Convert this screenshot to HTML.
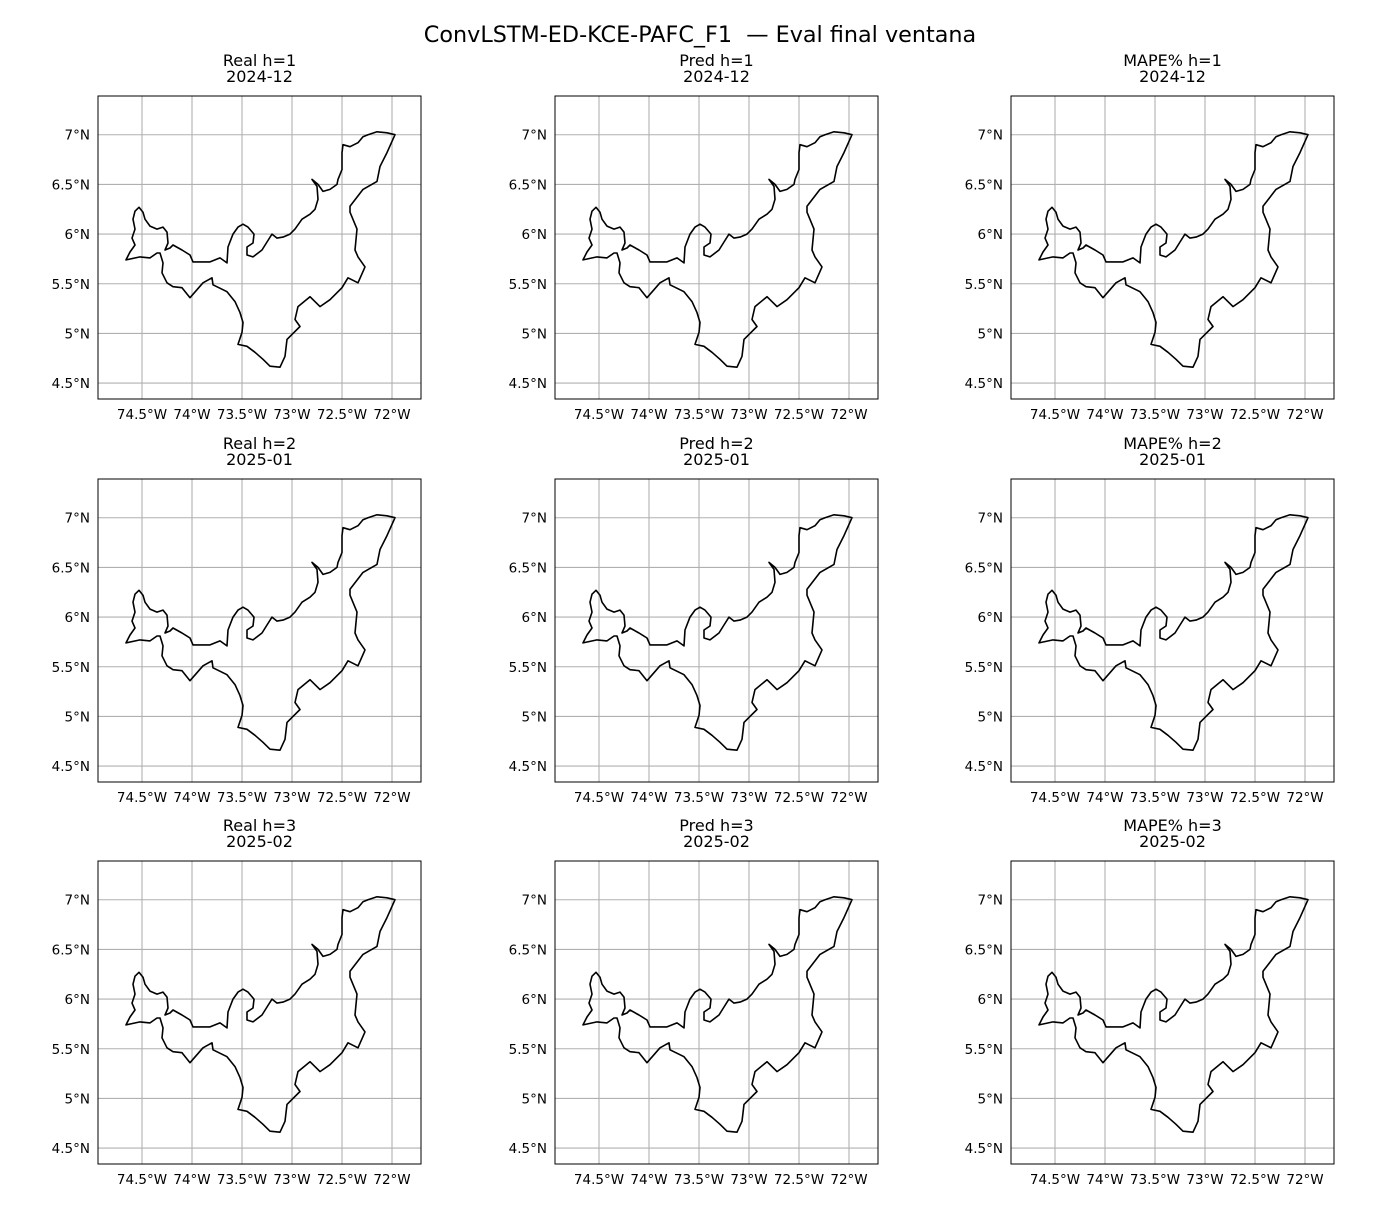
<!DOCTYPE html>
<html><head><meta charset="utf-8"><style>
html,body{margin:0;padding:0;background:#fff;}
svg text{font-family:"DejaVu Sans","Liberation Sans",sans-serif;fill:#000;}
</style></head><body>
<svg id="fig" width="1400" height="1200" viewBox="0 0 1400 1200" xmlns="http://www.w3.org/2000/svg">
<rect width="1400" height="1200" fill="#fff"/>
<text x="700" y="42" font-size="22.3" text-anchor="middle">ConvLSTM-ED-KCE-PAFC_F1&#160; — Eval final ventana</text>
</svg>
<script>
const lonTicks=[-74.5,-74,-73.5,-73,-72.5,-72];
const lonLabels=["74.5°W","74°W","73.5°W","73°W","72.5°W","72°W"];
const latTicks=[7,6.5,6,5.5,5,4.5];
const latLabels=["7°N","6.5°N","6°N","5.5°N","5°N","4.5°N"];
const colTitles=["Real","Pred","MAPE%"];
const rowH=["h=1","h=2","h=3"];
const rowDates=["2024-12","2025-01","2025-02"];
const outlineLon=[-71.97,-72.05,-72.15,-72.24,-72.29,-72.34,-72.42,-72.49,-72.50,-72.50,-72.54,-72.55,-72.62,-72.69,-72.74,-72.80,-72.75,-72.74,-72.77,-72.82,-72.90,-72.97,-73.02,-73.09,-73.15,-73.20,-73.25,-73.30,-73.39,-73.45,-73.45,-73.39,-73.38,-73.44,-73.49,-73.54,-73.59,-73.64,-73.65,-73.72,-73.82,-73.89,-73.99,-74.02,-74.10,-74.19,-74.22,-74.27,-74.24,-74.25,-74.29,-74.35,-74.42,-74.47,-74.49,-74.53,-74.57,-74.59,-74.57,-74.60,-74.57,-74.62,-74.66,-74.52,-74.42,-74.35,-74.32,-74.29,-74.30,-74.25,-74.19,-74.10,-74.02,-73.95,-73.89,-73.80,-73.79,-73.65,-73.57,-73.52,-73.49,-73.50,-73.54,-73.45,-73.37,-73.29,-73.22,-73.12,-73.07,-73.05,-73.00,-72.92,-72.97,-72.94,-72.82,-72.72,-72.62,-72.50,-72.44,-72.34,-72.27,-72.34,-72.37,-72.35,-72.42,-72.42,-72.29,-72.15,-72.12,-72.05];
const outlineLat=[7.00,7.02,7.03,7.00,6.98,6.92,6.88,6.90,6.82,6.65,6.55,6.50,6.45,6.43,6.50,6.55,6.48,6.35,6.25,6.20,6.15,6.05,6.00,5.97,5.96,6.00,5.92,5.84,5.77,5.79,5.87,5.91,6.00,6.07,6.10,6.07,6.00,5.87,5.71,5.76,5.72,5.72,5.72,5.79,5.84,5.89,5.86,5.84,5.91,6.02,6.07,6.05,6.08,6.15,6.22,6.27,6.23,6.15,6.05,5.96,5.89,5.82,5.74,5.77,5.76,5.81,5.81,5.71,5.61,5.51,5.47,5.46,5.36,5.44,5.51,5.56,5.49,5.42,5.32,5.21,5.11,5.01,4.89,4.87,4.81,4.74,4.67,4.66,4.77,4.94,4.99,5.07,5.14,5.27,5.37,5.27,5.34,5.46,5.56,5.51,5.67,5.77,5.84,6.05,6.22,6.28,6.45,6.53,6.68,6.82];
const lonMin=-74.94,lonMax=-71.71,latMin=4.34,latMax=7.39;
const colX=[98,555,1011],rowY=[96,479,861],W=323,H=303;
const NS="http://www.w3.org/2000/svg";
const svg=document.getElementById('fig');
function mk(t,a,p){const e=document.createElementNS(NS,t);for(const k in a)e.setAttribute(k,a[k]);(p||svg).appendChild(e);return e;}
for(let r=0;r<3;r++)for(let c=0;c<3;c++){
  const x0=colX[c],y0=rowY[r];
  const sx=v=>x0+(v-lonMin)/(lonMax-lonMin)*W;
  const sy=v=>y0+(latMax-v)/(latMax-latMin)*H;
  const g=mk('g',{});
  
  
  const t1=mk('text',{x:x0+W/2,y:y0-30,'font-size':16,'text-anchor':'middle'},g);t1.textContent=colTitles[c]+' '+rowH[r];
  
  const t2=mk('text',{x:x0+W/2,y:y0-14,'font-size':16,'text-anchor':'middle'},g);t2.textContent=rowDates[r];
  
  lonTicks.forEach((v,i)=>{const X=sx(v);
    const l=mk('line',{x1:X,x2:X,y1:y0,y2:y0+H,stroke:'#b0b0b0','stroke-width':1.1},g);
    
    const t=mk('text',{x:X,y:y0+H+20,'font-size':13.5,'text-anchor':'middle'},g);t.textContent=lonLabels[i];
    });
  latTicks.forEach((v,i)=>{const Y=sy(v);
    const l=mk('line',{x1:x0,x2:x0+W,y1:Y,y2:Y,stroke:'#b0b0b0','stroke-width':1.1},g);
    
    const t=mk('text',{x:x0-8,y:Y+5,'font-size':13.5,'text-anchor':'end'},g);t.textContent=latLabels[i];
    });
  const pts=outlineLon.map((v,i)=>sx(v).toFixed(1)+','+sy(outlineLat[i]).toFixed(1)).join(' ');
  const p=mk('polygon',{points:pts,fill:'none',stroke:'#000','stroke-width':1.6,'stroke-linejoin':'round'},g);
  
  const f=mk('rect',{x:x0,y:y0,width:W,height:H,fill:'none',stroke:'#000','stroke-width':1},g);
  
}
</script>
</body></html>
